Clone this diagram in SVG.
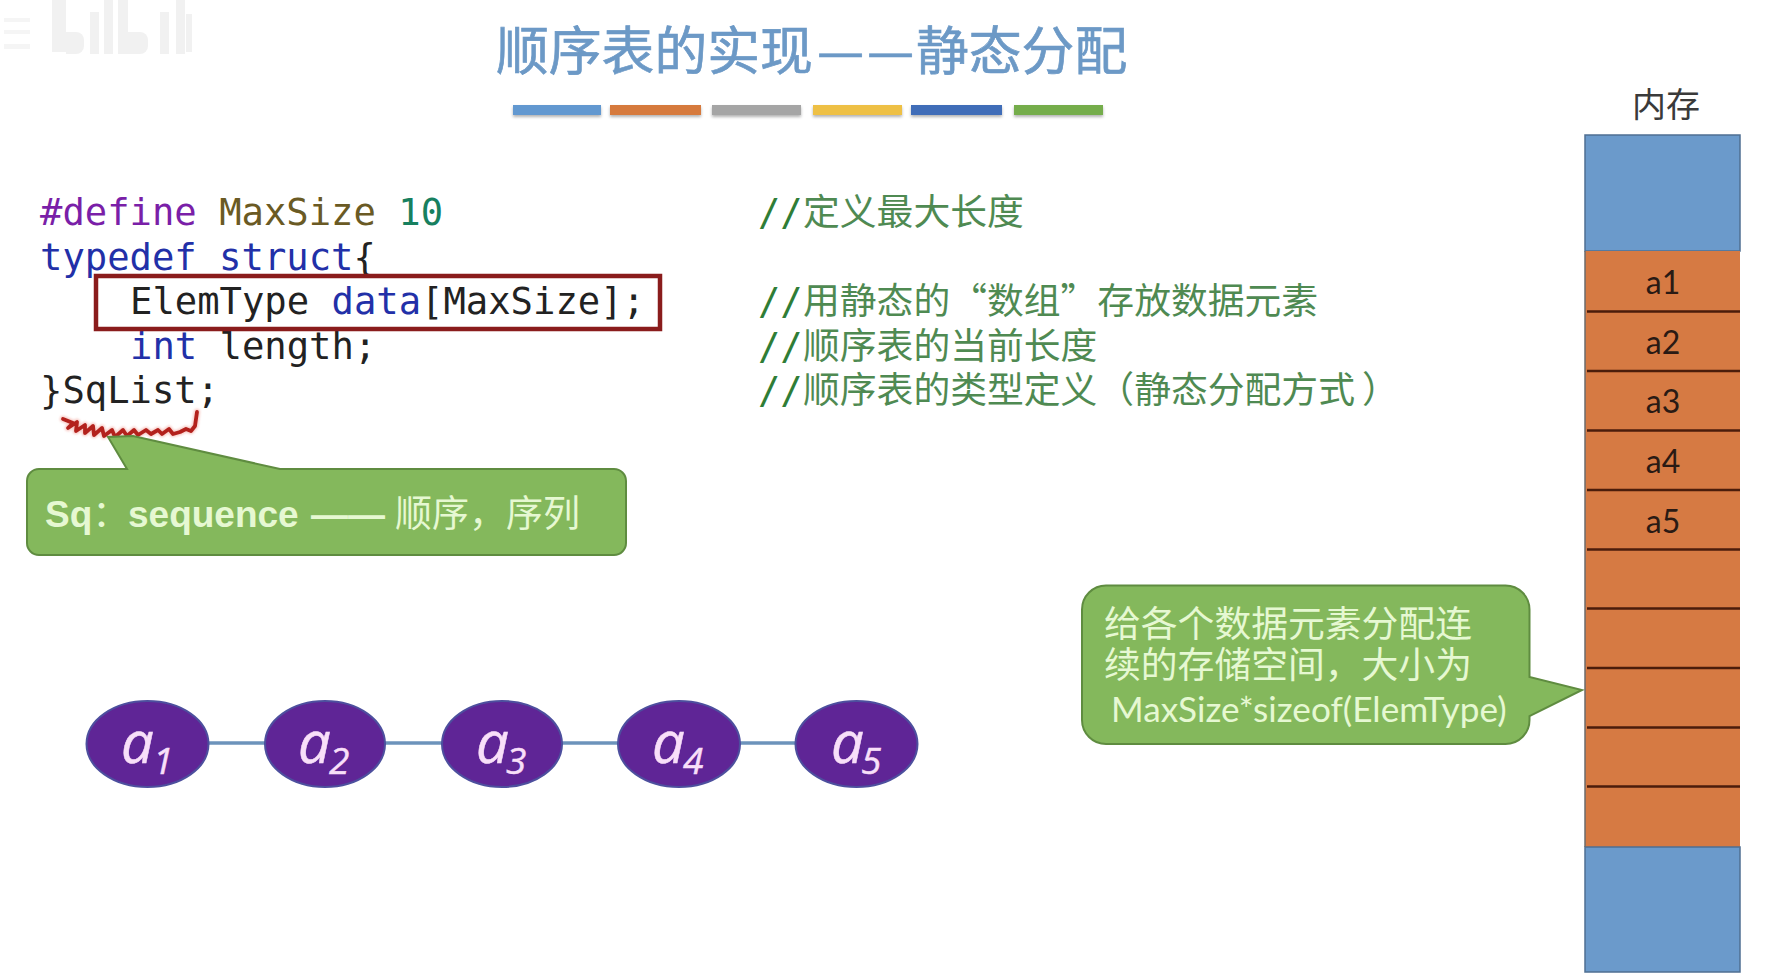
<svg xmlns="http://www.w3.org/2000/svg" width="1766" height="975" viewBox="0 0 1766 975">
<defs>
<filter id="sh" x="-5%" y="-30%" width="110%" height="180%"><feDropShadow dx="0" dy="2" stdDeviation="1.5" flood-color="#000" flood-opacity=".3"/></filter>
<filter id="glow" x="-5%" y="-30%" width="110%" height="160%"><feGaussianBlur stdDeviation="1"/></filter>
<path id="sqp" d="M63 419L73 423L68 428L77 422L76 431L85 425L85 433L93 426L94 435L102 428L104 436L112 430L115 437L123 430L127 436L134 430L138 435L146 430L151 434L158 430L162 434L169 429L173 434L180 432L186 429L191 431L195 426L197 412"/>
</defs>
<style>
.cjk{font-family:"Noto Sans CJK SC","Liberation Sans",sans-serif}
.code{font-family:"DejaVu Sans Mono","Liberation Mono",monospace;font-size:37.2px;fill:#222}
.cm{font-family:"DejaVu Sans Mono","Noto Sans CJK SC",monospace;font-size:37px;fill:#2f7d36}
.cz{font-family:"Noto Sans CJK SC",sans-serif;font-size:36.8px;fill:#4f8a52;font-weight:400}
.kw{fill:#2230a8}.pp{fill:#7a1fa8}.mac{fill:#6a5a24}.num{fill:#17805f}
.cell{font-family:"Lato",sans-serif;font-size:32px;fill:#2a1a14;text-anchor:middle}
.sub{font-family:"Open Sans","Noto Sans",sans-serif;font-style:italic;fill:#f8dff9;stroke:#f8dff9;stroke-width:.5}
.bub{fill:#84b85c;stroke:#5f8c40;stroke-width:2}
.ell{fill:#5f2596;stroke:#4d4f9e;stroke-width:2}
.sep{stroke:#4b1d0b;stroke-width:2.6}
.lt{fill:#e6f8d2}
</style>
<rect width="1766" height="975" fill="#fff"/>

<g id="watermark" fill="#f1f1f1">
<rect x="52" y="0" width="14" height="52"/><path d="M66 32h10a8 8 0 0 1 8 8v6a8 8 0 0 1-8 8H66z"/>
<rect x="90" y="12" width="9" height="42"/><rect x="104" y="0" width="9" height="54"/><rect x="118" y="0" width="10" height="54"/>
<path d="M128 32h12a8 8 0 0 1 8 8v6a8 8 0 0 1-8 8h-12z"/>
<rect x="160" y="12" width="9" height="42"/><rect x="176" y="0" width="9" height="54"/><rect x="186" y="14" width="6" height="38"/>
<path d="M4 18H30V22H4ZM4 30H30V34H4ZM4 44H30V49H4Z" fill="#f5f5f5"/>
</g>

<g id="title">
<text class="cjk" x="496" y="70" font-size="52.8" fill="#6c99c6" stroke="#6c99c6" stroke-width=".7">顺序表的实现<tspan x="817 867">——</tspan><tspan x="916">静态分配</tspan></text>
<g filter="url(#sh)">
<rect x="513" y="105" width="88" height="10" fill="#6298d0"/>
<rect x="610" y="105" width="91" height="10" fill="#d67a3c"/>
<rect x="712" y="105" width="89" height="10" fill="#a5a5a5"/>
<rect x="813" y="105" width="89" height="10" fill="#eec044"/>
<rect x="911" y="105" width="91" height="10" fill="#3f6db8"/>
<rect x="1014" y="105" width="89" height="10" fill="#74ad4c"/>
</g>
</g>

<g id="code">
<text class="code" x="40" y="225"><tspan class="pp">#define</tspan> <tspan class="mac">MaxSize</tspan> <tspan class="num">10</tspan></text>
<text class="code" x="40" y="269.500"><tspan class="kw">typedef struct</tspan>{</text>
<text class="code" x="130" y="314">ElemType <tspan class="kw">data</tspan>[MaxSize];</text>
<text class="code" x="130" y="358.500"><tspan class="kw">int</tspan> length;</text>
<text class="code" x="40" y="403">}SqList;</text>
<rect x="96" y="276" width="564" height="53" fill="none" stroke="#8a1c1c" stroke-width="4.500"/>
</g>

<g id="comments">
<text class="cm" x="758" y="225">//<tspan class="cz" x="803">定义最大长度</tspan></text>
<text class="cm" x="758" y="314">//<tspan class="cz" x="803">用静态的“数组”存放数据元素</tspan></text>
<text class="cm" x="758" y="358.500">//<tspan class="cz" x="803">顺序表的当前长度</tspan></text>
<text class="cm" x="758" y="403">//<tspan class="cz" x="803">顺序表的类型定义（静态分配方式<tspan x="1362">）</tspan></tspan></text>
</g>

<g id="squiggle" fill="none" stroke-linejoin="round" stroke-linecap="round">
<use href="#sqp" stroke="#f3a8a0" stroke-width="6.500" opacity=".6" filter="url(#glow)"/>
<use href="#sqp" stroke="#b3211c" stroke-width="3.800"/>
</g>

<g id="callout-sq">
<path class="bub" d="M39 469H127L108 437L133 436L280 469H614A12 12 0 0 1 626 481V543A12 12 0 0 1 614 555H39A12 12 0 0 1 27 543V481A12 12 0 0 1 39 469Z"/>
<text class="lt" y="527" font-size="37" font-family="Liberation Sans,sans-serif" font-weight="700" x="45">Sq<tspan class="cjk" font-weight="400">：</tspan><tspan x="128">sequence</tspan><tspan x="311">——</tspan><tspan class="cjk" font-weight="400" x="395">顺序，序列</tspan></text>
</g>

<g id="connectors" stroke="#6c93bb" stroke-width="3.500">
<line x1="209" y1="743" x2="265" y2="743"/>
<line x1="385" y1="743" x2="442" y2="743"/>
<line x1="562" y1="743" x2="619" y2="743"/>
<line x1="740" y1="743" x2="796" y2="743"/>
</g>

<g id="node-a1"><ellipse class="ell" cx="147.500" cy="744" rx="61" ry="43"/><text class="sub" x="121" y="763" font-size="58">a<tspan font-size="37" x="153" y="774">1</tspan></text></g>
<g id="node-a2"><ellipse class="ell" cx="325" cy="744" rx="60" ry="43"/><text class="sub" x="298" y="763" font-size="58">a<tspan font-size="37" x="329" y="774">2</tspan></text></g>
<g id="node-a3"><ellipse class="ell" cx="502" cy="744" rx="60" ry="43"/><text class="sub" x="476" y="763" font-size="58">a<tspan font-size="37" x="506" y="774">3</tspan></text></g>
<g id="node-a4"><ellipse class="ell" cx="679" cy="744" rx="61" ry="43"/><text class="sub" x="652" y="763" font-size="58">a<tspan font-size="37" x="683" y="774">4</tspan></text></g>
<g id="node-a5"><ellipse class="ell" cx="856.500" cy="744" rx="61" ry="43"/><text class="sub" x="831" y="763" font-size="58">a<tspan font-size="37" x="861" y="774">5</tspan></text></g>

<g id="callout-size">
<path class="bub" d="M1106 585.500H1505.500A24 24 0 0 1 1529.500 609.500V677L1582 690L1529.500 716V720A24 24 0 0 1 1505.500 744H1106A24 24 0 0 1 1082 720V609.500A24 24 0 0 1 1106 585.500Z"/>
<text class="cjk lt" x="1104" y="637" font-size="36.800">给各个数据元素分配连</text>
<text class="cjk lt" x="1104" y="678" font-size="36.800">续的存储空间，大小为</text>
<text class="lt" x="1111" y="722" font-size="35.200" font-family="Lato,sans-serif">MaxSize*sizeof(ElemType)</text>
</g>

<g id="memory">
<text class="cjk" x="1632" y="117" font-size="34" fill="#3a3a3a">内存</text>
<rect x="1585" y="135" width="155" height="116" fill="#6b9acb" stroke="#4f6f92" stroke-width="1.500"/>
<rect x="1585" y="251" width="155" height="596" fill="#d67a43"/>
<rect x="1585" y="847" width="155" height="125" fill="#6b9acb" stroke="#4f6f92" stroke-width="1.500"/>
<line x1="1585" y1="251" x2="1585" y2="847" stroke="#6b6b6b" stroke-width="1.500"/>
<g class="sep">
<line x1="1587" y1="311.500" x2="1740" y2="311.500"/><line x1="1587" y1="371" x2="1740" y2="371"/>
<line x1="1587" y1="430.500" x2="1740" y2="430.500"/><line x1="1587" y1="490" x2="1740" y2="490"/>
<line x1="1587" y1="549.500" x2="1740" y2="549.500"/><line x1="1587" y1="608.500" x2="1740" y2="608.500"/>
<line x1="1587" y1="668" x2="1740" y2="668"/><line x1="1587" y1="727.500" x2="1740" y2="727.500"/>
<line x1="1587" y1="786.500" x2="1740" y2="786.500"/>
</g>
<text class="cell" x="1663" y="294">a1</text>
<text class="cell" x="1663" y="354">a2</text>
<text class="cell" x="1663" y="413">a3</text>
<text class="cell" x="1663" y="473">a4</text>
<text class="cell" x="1663" y="533">a5</text>
</g>
</svg>
